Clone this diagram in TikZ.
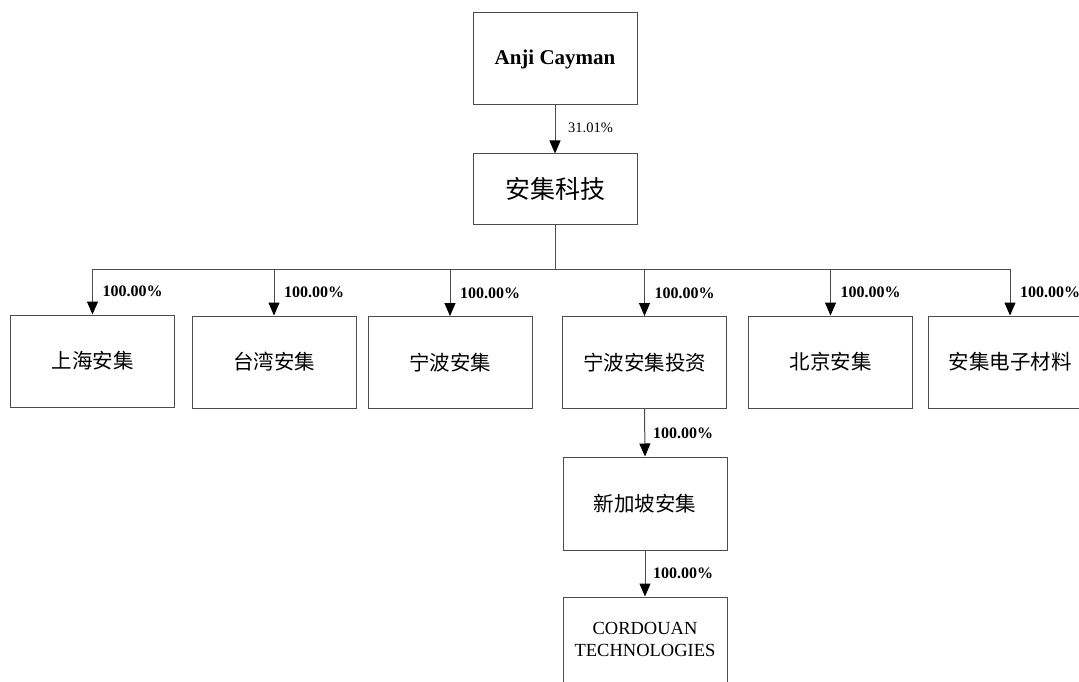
\documentclass[tikz,border=0pt]{standalone}
\usepackage{fontspec}
\setmainfont{Liberation Serif}
\newfontfamily\cjk{Noto Sans CJK SC}
\usetikzlibrary{arrows.meta}
\begin{document}
\begin{tikzpicture}[x=1pt,y=-1pt,
  box/.style={draw=black!70,line width=1pt,minimum width=164pt,minimum height=92pt,inner sep=0pt,align=center},
  cn/.style={font=\cjk\fontsize{20.5}{24}\selectfont},
  ln/.style={draw=black!70,line width=1pt},
  arr/.style={ln,-{Triangle[width=11pt,length=13pt,fill=black,color=black]}},
  pct/.style={font=\bfseries\fontsize{16}{19}\selectfont,anchor=west,inner sep=0pt}]
\useasboundingbox (0,0) rectangle (1079,682);
\clip (0,0) rectangle (1079,682);
\node[box,font=\bfseries\fontsize{21}{25}\selectfont] (cay) at (555,59) {Anji Cayman};
\node[box,minimum height=70pt,font=\cjk\fontsize{25}{29}\selectfont] (keji) at (555,189) {安集科技};
\node[box,cn] (sh) at (92.5,361) {上海安集};
\node[box,cn] (tw) at (274,362) {台湾安集};
\node[box,cn] (nb) at (450,362.5) {宁波安集};
\node[box,cn] (nbtz) at (644.5,362.5) {宁波安集投资};
\node[box,cn] (bj) at (830.5,362) {北京安集};
\node[box,cn] (dz) at (1010,362) {安集电子材料};
\node[box,cn,minimum height=93pt] (xjp) at (645,503.5) {新加坡安集};
\node[box] (cord) at (645,643) {};
\node[font=\fontsize{18.5}{22}\selectfont,align=center,inner sep=0pt] (cordt) at (645,639) {CORDOUAN\\TECHNOLOGIES};
\draw[arr] (cay) -- (keji);
\node[font=\fontsize{14.5}{17}\selectfont,anchor=west,inner sep=0pt] (p0) at (568,128) {31.01\%};
\coordinate (bus) at (555,269);
\draw[ln] (keji.south) -- (bus);
\draw[ln] (sh.north |- bus) -- (dz.north |- bus);
\foreach \n in {sh,tw,nb,nbtz,bj,dz}{
  \draw[arr] (\n.north |- bus) -- (\n.north);
  \node[pct] at ([xshift=10pt,yshift=23pt]\n.north) {100.00\%};
}
\draw[arr] (nbtz.south) -- (xjp.north);
\node[pct] (p7) at (653,433) {100.00\%};
\draw[arr] (xjp.south) -- (cord.north);
\node[pct] (p8) at (653,573) {100.00\%};
\end{tikzpicture}
\end{document}
